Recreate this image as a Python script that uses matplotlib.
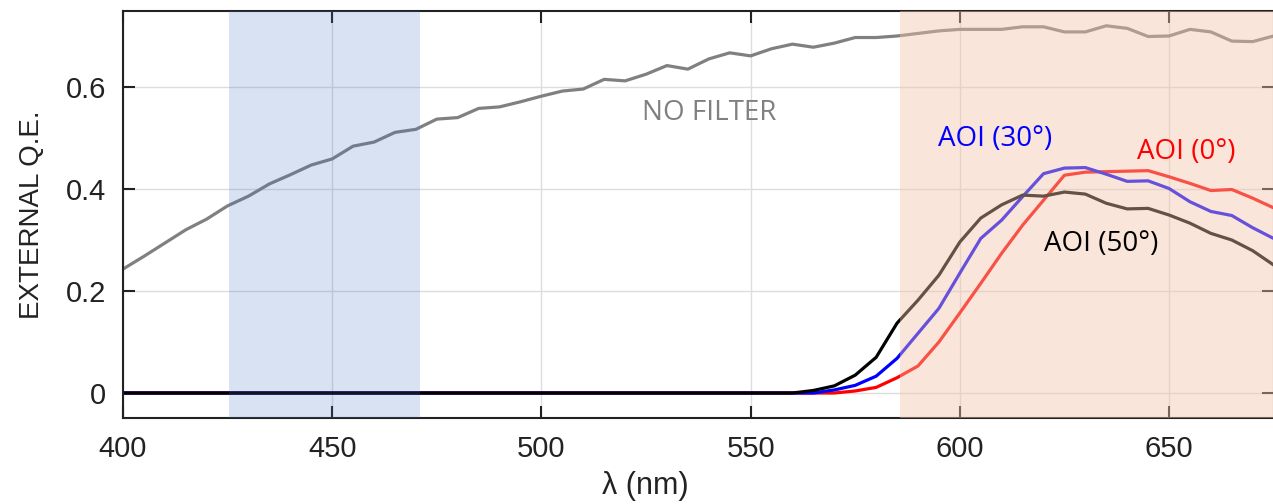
import matplotlib
matplotlib.use("Agg")
import matplotlib.pyplot as plt

wavelength = list(range(400, 680, 5))

no_filter = [0.243, 0.268, 0.294, 0.320, 0.341, 0.367, 0.386, 0.410, 0.428, 0.447,
             0.459, 0.484, 0.492, 0.511, 0.517, 0.537, 0.540, 0.558, 0.561, 0.571,
             0.582, 0.592, 0.596, 0.615, 0.612, 0.625, 0.642, 0.635, 0.655, 0.667,
             0.661, 0.675, 0.684, 0.678, 0.686, 0.697, 0.697, 0.700, 0.705, 0.710,
             0.713, 0.713, 0.713, 0.718, 0.718, 0.708, 0.708, 0.720, 0.715, 0.699,
             0.700, 0.713, 0.708, 0.690, 0.689, 0.700]

aoi_0 = [0.0] * 35 + [0.004, 0.011, 0.030, 0.053, 0.100, 0.157, 0.215, 0.274, 0.329, 0.378,
                      0.427, 0.433, 0.434, 0.435, 0.436, 0.424, 0.411, 0.397, 0.399, 0.382, 0.363]

aoi_30 = [0.0] * 34 + [0.006, 0.015, 0.033, 0.068, 0.117, 0.166, 0.235, 0.303, 0.339, 0.385,
                       0.430, 0.441, 0.442, 0.429, 0.415, 0.416, 0.401, 0.375, 0.356, 0.348,
                       0.324, 0.303]

aoi_50 = [0.0] * 33 + [0.005, 0.014, 0.035, 0.070, 0.137, 0.182, 0.231, 0.296, 0.343, 0.369,
                       0.388, 0.386, 0.394, 0.390, 0.372, 0.361, 0.362, 0.349, 0.333, 0.313,
                       0.300, 0.279, 0.251]

blue_band = (425.3, 471.1)
orange_band = (585.7, 675.0)

xticks = [400, 450, 500, 550, 600, 650]
yticks = [0, 0.2, 0.4, 0.6]
ytick_labels = ["0", "0.2", "0.4", "0.6"]

fig = plt.figure(figsize=(12.73, 5.04), dpi=100)
ax = fig.add_axes([123 / 1273, 1 - 418 / 504, 1 - 123 / 1273 + 0.0005, (418 - 11) / 504])
ax.set_axisbelow(True)

lw = 2.3
ax.plot(wavelength, no_filter, color="#808080", lw=lw, zorder=2)
ax.plot(wavelength, aoi_0, color="#ff0000", lw=lw, zorder=2)
ax.plot(wavelength, aoi_30, color="#0000ff", lw=lw, zorder=2)
ax.plot(wavelength, aoi_50, color="#000000", lw=lw, zorder=2)

ax.axvspan(*blue_band, color=(65/255, 110/255, 190/255), alpha=0.2, lw=0, zorder=3)
ax.axvspan(*orange_band, color=(243/255, 195/255, 167/255), alpha=0.42, lw=0, zorder=3)

tfont = dict(family=["Open Sans", "DejaVu Sans"], fontsize=20, ha="center", va="center", zorder=4)
ax.text(540.1, 0.549, "NO FILTER", color="#808080", **tfont)
ax.text(608.4, 0.498, "AOI (30°)", color="#0000ff", **tfont)
ax.text(654.0, 0.4725, "AOI (0°)", color="#ff0000", **tfont)
ax.text(633.7, 0.292, "AOI (50°)", color="#000000", **tfont)

ax.set_xlim(400, 675)
ax.set_ylim(-0.049, 0.749)
ax.set_xticks(xticks)
ax.set_xticklabels([str(t) for t in xticks])
ax.set_yticks(yticks)
ax.set_yticklabels(ytick_labels)

lab_family = ["Liberation Sans", "DejaVu Sans"]
ax.grid(True, color="#dddddd", lw=1.0)
ax.tick_params(direction="in", length=8.5, width=1.5, color="#222222", labelcolor="#222222",
               labelsize=21, top=True, right=True, pad=12)
for lab in ax.get_xticklabels() + ax.get_yticklabels():
    lab.set_family(lab_family)
for s in ax.spines.values():
    s.set_color("#222222")
    s.set_linewidth(1.5)

ax.set_xlabel("λ (nm)", fontsize=22, color="#222222", family=lab_family)
ax.xaxis.set_label_coords((645 - 123) / 1150, -0.13)
ax.xaxis.label.set_va("top")
ax.set_ylabel("EXTERNAL Q.E.", fontsize=20, color="#222222", family=lab_family, labelpad=15)

fig.savefig("out.png", dpi=100)
